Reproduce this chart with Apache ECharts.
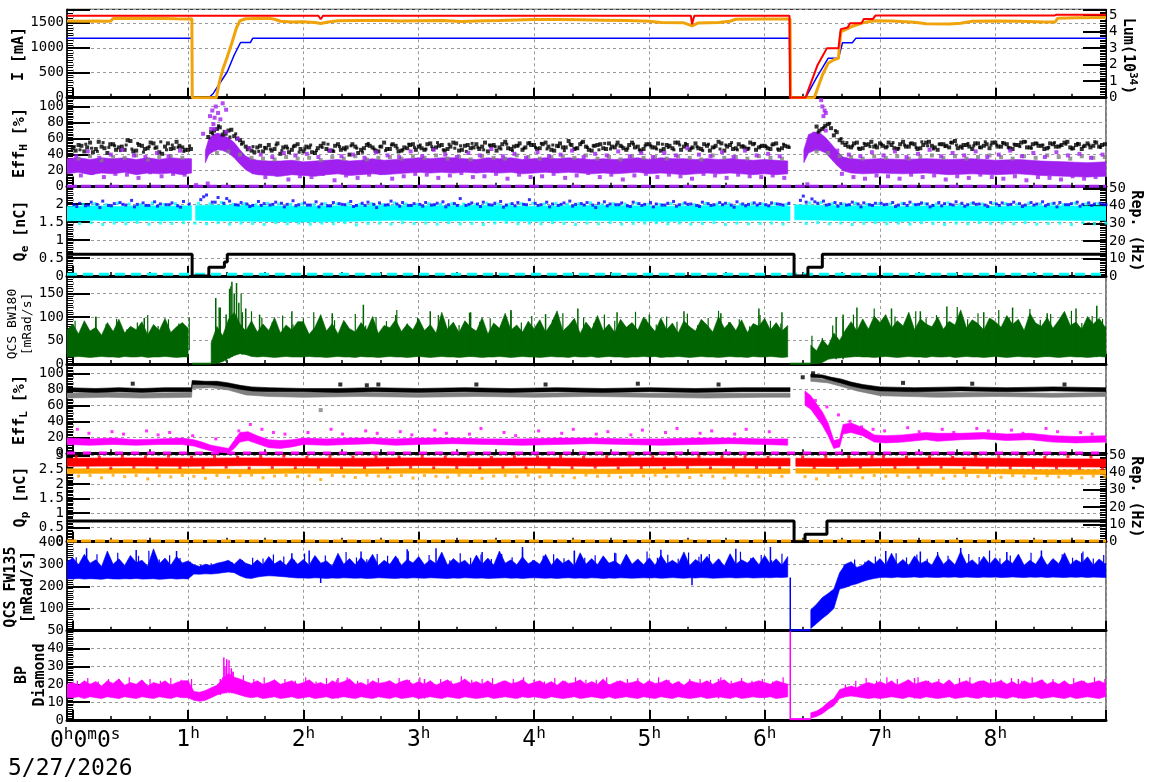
<!DOCTYPE html>
<html>
<head>
<meta charset="utf-8">
<script src="https://cdn.jsdelivr.net/npm/echarts@6/dist/echarts.min.js"></script>
<style>
  html, body { margin: 0; padding: 0; background: #fff; }
  #chart { width: 1172px; height: 782px; }
</style>
</head>
<body>
<div id="chart"></div>
<script>
// ---- data (time in hours) ----
// panel 1: beam currents [mA] and luminosity [1e34]
const herCurrent = [[-0.05,1188],[1.033,1188],[1.035,0],[1.18,0],[1.22,90],[1.34,520],[1.4,855],[1.455,1105],[1.54,1105],[1.56,1188],[5.36,1188],[5.37,1165],[5.38,1188],[6.215,1188],[6.218,750],[6.222,0],[6.355,0],[6.45,400],[6.55,788],[6.64,790],[6.675,1100],[6.76,1100],[6.79,1188],[8.96,1188]];
const lerCurrent = [[-0.05,1535],[0.1,1530],[0.2,1538],[0.3,1532],[0.33,1536],[0.35,1585],[0.5,1590],[0.6,1584],[0.7,1590],[0.8,1586],[0.9,1580],[1.0,1578],[1.033,1580],[1.036,0],[1.245,0],[1.27,300],[1.3,560],[1.34,820],[1.38,1100],[1.42,1400],[1.45,1540],[1.5,1580],[1.6,1586],[1.7,1590],[1.75,1570],[1.8,1530],[1.9,1518],[2.0,1520],[2.1,1505],[2.15,1485],[2.2,1510],[2.3,1540],[2.5,1548],[2.7,1545],[2.84,1535],[3.0,1540],[3.2,1545],[3.37,1525],[3.5,1535],[3.7,1545],[4.0,1568],[4.2,1565],[4.4,1560],[4.6,1553],[4.8,1545],[5.0,1530],[5.1,1505],[5.3,1500],[5.37,1440],[5.42,1495],[5.6,1507],[5.7,1530],[5.75,1570],[6.0,1575],[6.2,1574],[6.22,1574],[6.225,0],[6.43,0],[6.5,450],[6.55,688],[6.6,760],[6.64,790],[6.66,1320],[6.75,1420],[6.85,1500],[6.95,1540],[7.1,1535],[7.3,1510],[7.4,1480],[7.6,1474],[7.7,1490],[7.8,1530],[8.0,1535],[8.2,1530],[8.42,1515],[8.52,1515],[8.54,1590],[8.7,1600],[8.96,1607]];
const luminosity = [[-0.05,4.96],[2.13,4.96],[2.15,4.75],[2.17,4.96],[3.36,4.96],[3.37,4.85],[3.38,4.96],[5.36,4.96],[5.37,4.45],[5.39,4.96],[6.215,4.96],[6.22,0],[6.355,0],[6.38,0.5],[6.46,2.0],[6.5,2.5],[6.54,3.0],[6.64,3.0],[6.66,4.15],[6.72,4.25],[6.74,4.5],[6.84,4.5],[6.86,4.77],[6.94,4.77],[6.96,4.97],[8.51,4.97],[8.53,5.02],[8.96,5.02]];

// panel 2: Eff_H [%]
const effHBlackA = [ // t = 0 + 0.05 i
  48,52,44,55,47,50,42,53,49,46,57,45,51,48,54,43,50,47,56,49,
  46,null,null,null,68,72,65,70,63,58,50,45,49,44,52,47,41,50,46,53,
  44,49,42,51,47,45,53,48,40,50,46,52,49,44,55,47,51,45,48,53,
  50,46,54,49,52,47,55,45,51,48,53,50,44,52,49,56,47,51,46,54,
  52,48,55,46,51,49,57,47,53,50,45,52,48,54,49,51,46,55,50,47,
  53,49,45,52,48,55,50,46,54,47,51,49,56,45,52,48,50,47,53,49,
  51,47,54,48,50,null,null,null,null,75,72,78,64,58,52,49,55,48,53,50,
  54,49,52,47,56,50,53,48,55,51,46,53,49,57,50,52,47,54,51,48,
  55,50,53,47,52,56,49,54,51,48,53,50,55,49,52,47,54,51,50,53];
const effHBlackB = [ // t = 0.025 + 0.05 i
  45,51,49,43,56,48,53,46,50,58,44,52,47,55,49,41,54,48,51,46,
  47,null,null,62,70,74,66,71,60,55,48,43,51,48,45,54,49,43,51,47,
  50,43,48,54,45,51,46,49,53,42,48,51,45,50,47,53,44,49,52,46,
  48,53,47,51,45,50,54,46,52,49,47,55,51,45,53,48,50,54,49,52,
  47,53,50,45,54,49,52,48,56,46,51,53,47,50,55,48,52,49,45,53,
  49,54,47,51,55,46,52,49,48,53,45,51,54,50,47,53,49,55,46,51,
  48,53,46,51,null,null,null,null,null,70,76,73,68,55,50,54,47,52,56,49,
  51,55,48,53,50,54,47,52,56,49,53,51,55,48,52,50,54,49,53,55,
  50,54,48,52,55,49,53,51,47,54,50,52,56,48,53,51,49,55,52,50];
const effHBlackC = [ // t = 0.0125 + 0.05 i
  50,46,53,48,44,55,49,51,45,52,47,54,43,50,48,56,46,52,49,44,
  51,null,null,null,66,76,69,62,66,53,46,50,44,49,47,52,45,48,50,43,
  47,52,45,49,53,44,50,46,51,48,43,54,47,50,45,52,48,46,53,49,
  52,47,50,55,46,53,48,51,44,54,49,46,52,50,47,53,45,51,48,55,
  49,54,47,52,50,45,53,48,55,49,51,46,54,47,52,50,48,53,46,51,
  51,47,53,49,46,52,54,48,50,45,53,49,47,52,55,46,51,48,54,50,
  50,52,47,53,49,null,null,null,null,68,74,79,70,60,55,51,48,54,50,52,
  53,50,55,48,52,54,49,56,51,47,53,50,55,52,48,54,51,49,56,52,
  52,55,49,53,50,56,48,54,52,49,55,51,53,47,54,50,52,56,49,53];
const effHGray = [ // t = 0.05 + 0.1 i
  35,38,33,37,36,39,34,37,38,36,
  null,null,42,44,40,36,35,34,37,35,
  36,33,37,35,38,34,36,37,35,38,
  36,39,35,37,34,38,36,35,39,37,
  35,37,38,36,39,35,37,34,38,36,
  37,35,38,36,34,39,36,37,35,38,
  36,35,null,null,44,42,38,37,35,38,
  36,38,35,37,39,36,38,35,37,39,
  37,35,38,36,39,37,35,38,36,37];
const effHPurpleBand = [ // [t, low, high]
  [-0.05,16,35],[0.05,18,36],[0.15,15,34],[0.25,17,36],[0.35,16,35],[0.45,18,36],[0.55,15,34],[0.65,17,36],[0.75,16,34],[0.85,17,36],[0.95,15,35],[1.03,17,35], null,
  [1.15,30,45],[1.18,40,60],[1.22,44,65],[1.26,46,67],[1.3,45,64],[1.35,42,61],[1.4,36,55],[1.45,28,46],[1.5,21,38],[1.55,17,35],[1.6,15,33],[1.7,14,32],[1.8,13,32],[1.9,15,33],[2.0,14,31],[2.1,13,32],[2.2,15,33],[2.3,16,34],[2.4,14,32],[2.5,15,33],[2.6,16,35],[2.7,15,33],[2.8,16,34],[2.9,17,35],[3.0,18,36],[3.1,17,35],[3.2,18,36],[3.3,17,36],[3.4,18,35],[3.5,17,34],[3.6,18,36],[3.7,17,35],[3.8,18,36],[3.9,16,34],[4.0,17,35],[4.1,18,36],[4.2,17,35],[4.3,18,36],[4.4,17,35],[4.5,16,34],[4.6,17,35],[4.7,16,34],[4.8,17,35],[4.9,18,36],[5.0,16,34],[5.1,17,36],[5.2,16,35],[5.3,15,35],[5.4,16,34],[5.5,17,35],[5.6,16,34],[5.7,17,35],[5.8,16,34],[5.9,15,33],[6.0,16,34],[6.1,15,33],[6.2,16,32], null,
  [6.34,30,46],[6.38,42,65],[6.43,45,68],[6.48,45,67],[6.53,42,61],[6.58,34,53],[6.63,26,44],[6.68,20,37],[6.75,17,35],[6.85,16,34],[7.0,17,35],[7.2,16,34],[7.4,17,35],[7.6,15,34],[7.8,16,35],[8.0,15,33],[8.2,16,34],[8.4,14,32],[8.6,13,31],[8.8,12,30],[8.96,13,31]];
const effHPurpleUp = [ // t = 0.03 + 0.1 i
  38,44,36,40,46,39,37,42,38,45,
  null,66,72,68,60,48,40,37,42,39,
  41,37,45,38,40,36,43,39,37,44,
  38,46,40,37,42,39,47,38,41,36,
  43,38,40,45,37,41,39,44,38,42,
  37,42,39,48,40,38,43,37,45,39,
  41,38,null,null,66,70,45,40,38,43,
  39,44,37,41,46,38,42,39,44,37,
  40,45,38,42,37,43,39,41,36,40];
const effHPurpleDown = [ // t = 0.07 + 0.1 i
  14,17,12,16,15,11,18,13,16,15,
  2,4,null,null,null,18,12,15,9,13,
  12,16,8,14,11,15,17,10,13,16,
  15,11,14,17,12,13,16,10,15,12,
  13,16,11,14,17,12,15,9,14,16,
  12,15,13,10,16,14,11,15,13,12,
  14,11,null,3,null,null,16,12,10,14,
  13,10,15,12,14,9,13,11,15,12,
  10,13,8,12,11,9,13,10,12,11];
const effHPurpleHigh = [[1.19,88],[1.21,95],[1.23,86],[1.24,100],[1.26,92],[1.28,84],[1.3,104],[1.33,96],[1.2,72],[1.22,78],[6.49,108],[6.5,100],[6.52,95],[6.53,92],[6.51,88]];

// panel 3: Q_e [nC] and e- repetition [Hz]
const qeCyanBand = [
  [-0.05,1.53,1.93],[0.2,1.55,1.95],[0.4,1.52,1.93],[0.6,1.54,1.96],[0.8,1.53,1.94],[1.03,1.55,1.95], null,
  [1.065,1.55,1.96],[1.3,1.53,1.97],[1.6,1.52,1.95],[2.0,1.5,1.94],[2.4,1.52,1.95],[2.8,1.55,1.96],[3.2,1.53,1.95],[3.6,1.54,1.96],[4.0,1.52,1.94],[4.4,1.54,1.96],[4.8,1.53,1.95],[5.2,1.52,1.94],[5.6,1.54,1.96],[6.0,1.55,1.95],[6.22,1.54,1.94], null,
  [6.26,1.56,1.98],[6.5,1.55,1.96],[6.8,1.53,1.95],[7.2,1.52,1.94],[7.6,1.54,1.95],[8.0,1.53,1.94],[8.4,1.55,1.95],[8.96,1.54,1.94]];
const qeBlueA = [ // t = 0.01 + 0.05 i
  1.98,2.02,1.95,2.05,1.99,2.08,1.96,2.01,2.04,1.97,2.10,1.99,2.03,1.96,2.06,2.00,1.98,2.03,1.95,2.07,
  2.00,null,2.12,2.25,2.05,2.18,2.02,2.08,1.98,2.04,2.00,1.96,2.07,2.01,1.97,2.05,2.02,1.99,2.09,1.98,
  2.03,1.97,2.06,2.00,1.95,2.04,2.01,1.98,2.07,1.96,2.02,2.05,1.99,2.03,1.97,2.08,2.00,2.04,1.96,2.01,
  1.99,2.04,1.97,2.02,2.06,1.98,2.01,2.15,1.96,2.03,2.00,2.05,1.98,2.02,2.07,1.97,2.01,2.04,1.99,2.12,
  2.02,1.98,2.05,2.00,1.96,2.03,2.08,1.99,2.01,2.04,1.97,2.02,2.06,2.00,1.98,2.03,1.95,2.05,2.01,1.99,
  2.04,2.00,1.97,2.02,2.07,1.98,2.03,2.00,1.96,2.05,2.01,1.98,2.04,2.02,1.97,2.06,2.00,1.99,2.03,2.01,
  1.98,2.03,2.00,1.97,2.02,null,2.10,2.05,2.14,2.02,2.08,1.99,2.04,2.01,1.97,2.05,2.00,2.03,1.98,2.02,
  2.02,1.99,2.04,1.97,2.01,2.05,1.98,2.03,2.00,1.96,2.04,2.01,1.99,2.06,2.02,1.98,2.03,2.00,1.97,2.04,
  2.00,2.03,1.98,2.05,2.01,1.97,2.04,2.00,2.06,1.99,2.02,2.04,1.98,2.01,2.05,1.99,2.03,2.00,2.02,1.98];
const qeBlueB = [ // t = 0.035 + 0.1 i
  1.93,1.97,1.9,1.95,1.99,1.92,1.96,1.94,1.98,1.91,
  null,2.2,2.05,2.15,1.97,1.93,1.96,1.99,1.92,1.95,
  1.97,1.92,1.95,1.99,1.93,1.96,1.9,1.98,1.94,1.96,
  1.94,1.98,1.92,1.96,1.99,1.93,1.97,1.91,1.95,1.98,
  1.96,1.92,1.99,1.94,1.97,1.9,1.95,1.98,1.93,1.96,
  1.92,1.97,1.94,1.99,1.93,1.96,1.98,1.91,1.95,1.97,
  1.95,1.99,null,2.22,2.06,1.97,1.94,1.98,1.92,1.96,
  1.98,1.93,1.96,1.99,1.92,1.95,1.97,1.94,1.99,1.93,
  1.96,1.99,1.93,1.97,1.95,1.92,1.98,1.94,1.96,1.99];
const qeCyanLow = [ // t = 0.06 + 0.1 i
  1.46,1.48,1.43,1.47,1.45,1.49,1.44,1.47,1.46,1.48,
  1.47,1.45,1.48,1.44,1.47,1.46,1.43,1.48,1.45,1.47,
  1.44,1.47,1.45,1.48,1.42,1.46,1.47,1.44,1.48,1.46,
  1.47,1.44,1.48,1.45,1.46,1.43,1.47,1.49,1.45,1.47,
  1.45,1.48,1.46,1.43,1.47,1.45,1.48,1.44,1.46,1.47,
  1.48,1.45,1.47,1.44,1.46,1.48,1.43,1.47,1.45,1.46,
  1.47,1.44,null,1.46,1.48,1.45,1.47,1.43,1.46,1.48,
  1.45,1.47,1.44,1.48,1.46,1.43,1.47,1.45,1.48,1.46,
  1.47,1.45,1.48,1.44,1.46,1.47,1.43,1.48,1.45,1.47];
const qeCyanHigh = [ // t = 0.09 + 0.1 i
  1.99,2.01,1.98,2.02,2.0,1.98,2.03,1.99,2.01,null,
  2.02,2.0,2.04,1.99,2.01,1.98,2.02,2.0,1.99,2.01,
  1.98,2.01,2.0,2.02,1.99,2.01,1.98,2.03,2.0,1.99,
  2.01,1.99,2.02,2.0,1.98,2.02,2.0,1.99,2.01,2.02,
  2.0,2.02,1.99,2.01,2.03,1.98,2.01,2.0,2.02,1.99,
  1.99,2.01,2.0,1.98,2.02,2.0,2.01,1.99,2.02,2.0,
  2.01,1.99,null,2.03,2.04,2.01,2.0,2.02,1.99,2.01,
  2.0,2.02,1.99,2.01,2.0,2.03,1.98,2.01,2.0,2.02,
  2.01,1.99,2.02,2.0,2.01,1.98,2.02,2.0,2.01,1.99];
const qeRep = [[-0.05,12.4],[1.035,12.4],[1.035,0],[1.18,0],[1.18,5],[1.315,5],[1.315,8],[1.34,8],[1.34,12.4],[6.255,12.4],[6.255,0],[6.375,0],[6.375,5],[6.5,5],[6.5,12.4],[8.96,12.4]];

// panel 4: QCS BW180 [mRad/s], t = -0.05 + 0.05 i
const bw180Low = [15,
  15,16,15,14,15,16,15,15,14,16,15,15,16,14,15,15,16,15,14,15,
  15,null,null,null,0,2,5,12,18,22,20,16,15,16,15,14,15,16,15,15,
  15,16,15,15,14,15,16,15,15,14,16,15,15,14,15,16,15,15,14,15,
  16,15,14,15,16,15,15,14,15,16,15,14,15,15,16,15,14,15,16,15,
  15,14,15,16,15,15,14,16,15,15,16,14,15,16,15,15,14,15,15,16,
  15,16,14,15,15,16,15,14,15,16,15,15,14,15,16,15,15,14,16,15,
  15,16,15,14,15,null,null,null,0,0,3,10,12,13,14,15,16,15,15,14,
  15,16,15,14,15,16,15,15,14,16,15,15,16,14,15,16,15,15,14,15,
  16,15,14,15,16,15,15,14,15,16,15,14,15,16,15,15,14,15,16,15,
  15];
const bw180High = [72,
  85,64,92,70,78,61,88,69,95,66,80,73,90,62,84,71,97,67,79,88,
  76,null,null,null,45,80,60,95,110,85,70,92,68,85,71,99,66,83,72,90,
  90,63,78,105,70,86,64,93,75,68,88,72,101,65,82,77,94,69,85,73,
  96,71,84,66,110,74,89,67,92,78,70,99,64,87,76,108,72,83,68,91,
  75,94,68,86,113,70,82,97,65,89,74,103,71,85,67,95,78,88,72,100,
  84,69,98,73,87,66,92,79,70,95,83,68,101,76,89,71,94,67,86,80,
  97,72,88,70,82,null,null,null,40,28,52,38,66,50,72,90,70,96,74,102,
  88,105,76,92,81,110,73,96,85,79,100,74,91,83,115,77,94,86,72,98,
  90,78,103,84,95,71,108,87,80,99,76,93,112,82,89,74,101,85,97,79,
  88];
const bw180Tops = [ // thin spikes, t = 0.02 + 0.09 i
  92,78,101,85,96,74,88,104,81,95,
  86,99,null,null,120,165,150,112,98,89,
  103,84,97,110,79,93,88,106,82,100,
  91,115,86,98,77,104,95,83,109,90,
  97,81,112,88,102,76,94,108,85,99,
  87,105,92,79,111,96,84,101,90,107,
  83,98,113,89,95,80,104,92,86,null,
  null,60,55,82,95,105,88,118,93,101,
  86,112,97,104,90,121,95,108,84,115,
  99,88,117,94,106,91,113,87,102,96];
const bw180Spikes = [[1.24,0,140],[1.27,0,120],[1.33,5,105],[1.36,12,160],[1.38,15,175],[1.4,18,150],[1.42,20,172],[1.44,22,130],[1.47,20,110],[1.5,20,118],
  [0.2,15,100],[0.62,15,98],[1.62,15,105],[1.9,15,112],[2.25,15,108],[2.52,15,126],[2.8,15,104],[3.1,15,112],[3.45,15,110],[3.8,15,115],[4.1,15,106],[4.38,15,118],[4.72,15,110],[5.0,15,105],[5.3,15,112],[5.62,15,108],[5.95,15,118],[6.15,15,110],
  [6.62,10,100],[6.68,10,105],[6.8,15,120],[7.1,15,118],[7.35,15,112],[7.58,15,122],[7.9,15,110],[8.15,15,120],[8.45,15,108],[8.7,15,118],[8.88,15,124]];

// panel 5: Eff_L [%]
const effLGrayBand = [
  [-0.05,69,75],[0.3,70,76],[0.6,69,75],[1.03,70,76],
  [1.035,81,86],[1.2,82,87],[1.35,79,84],[1.5,73,79],[1.7,71,76],[2.0,70,76],[2.5,71,76],[3.0,70,75],[3.5,71,76],[4.0,70,75],[4.5,71,76],[5.0,70,75],[5.5,69,75],[6.0,70,75],[6.22,70,75], null,
  [6.4,90,94],[6.55,88,92],[6.65,84,89],[6.8,78,84],[7.0,72,78],[7.5,70,76],[8.0,71,76],[8.5,70,75],[8.96,71,76]];
const effLBlackBand = [
  [-0.05,77,82],[0.2,76,81],[0.4,77,82],[0.6,76,81],[0.8,77,82],[1.03,77,82],
  [1.035,86,91],[1.15,86,90],[1.25,85,90],[1.35,83,88],[1.45,80,85],[1.55,78,83],[1.7,77,82],[2.0,77,81],[2.3,76,81],[2.6,77,82],[3.0,76,81],[3.4,77,82],[3.8,76,81],[4.2,77,82],[4.6,76,81],[5.0,77,82],[5.4,76,81],[5.8,77,82],[6.22,77,82], null,
  [6.4,95,99],[6.5,94,98],[6.58,91,95],[6.66,88,93],[6.75,84,89],[6.85,81,86],[7.0,78,83],[7.3,77,82],[7.7,78,83],[8.1,77,82],[8.5,78,83],[8.96,77,82]];
const effLBlackOut = [[0.52,87],[2.32,86],[2.55,85],[2.65,86],[3.5,86],[4.1,86],[4.9,87],[5.6,86],[7.2,88],[7.8,87],[8.6,86],[6.33,95],[6.42,100]];
const effLGrayOut = [[2.15,54]];
const effLMagentaBand = [
  [-0.05,11,19],[0.15,10,18],[0.35,11,19],[0.55,10,17],[0.75,11,18],[0.95,11,19],[1.05,9,17],[1.12,6,14],[1.2,3,10],[1.28,1,8],[1.35,0,6],[1.4,6,16],[1.45,14,26],[1.52,16,27],[1.6,12,22],[1.7,7,17],[1.8,6,16],[1.9,8,17],[2.0,11,19],[2.2,10,18],[2.4,11,19],[2.6,12,19],[2.8,10,18],[3.0,11,19],[3.3,12,19],[3.6,11,18],[3.9,10,18],[4.2,11,19],[4.5,12,19],[4.8,11,18],[5.1,10,18],[5.4,11,19],[5.7,12,19],[6.0,11,18],[6.2,10,18], null,
  [6.35,60,78],[6.4,55,72],[6.45,45,62],[6.5,35,52],[6.55,22,38],[6.6,6,16],[6.65,8,18],[6.68,24,36],[6.75,26,38],[6.85,22,32],[6.95,14,23],[7.05,13,22],[7.2,14,23],[7.4,17,26],[7.5,15,25],[7.7,17,25],[7.9,18,26],[8.1,16,24],[8.3,17,25],[8.5,14,22],[8.7,13,21],[8.96,14,22]];
const effLMagentaOut = [ // t = 0.04 + 0.1 i
  30,25,null,27,24,null,28,23,26,null,
  22,null,18,null,28,36,30,26,24,null,
  26,null,30,24,null,28,25,null,27,23,
  null,29,25,null,24,31,null,26,22,null,
  28,null,25,30,null,24,27,null,23,29,
  null,26,31,null,25,28,null,24,30,null,
  27,null,null,null,66,58,48,40,33,30,
  28,null,32,27,null,30,26,null,31,28,
  null,29,25,null,31,27,null,26,24,null];

// panel 6: Q_p [nC] and e+ repetition [Hz]
const qpRedBand = [[-0.05,2.62,2.9],[0.5,2.63,2.91],[1.0,2.62,2.9],[1.5,2.64,2.91],[2.0,2.63,2.9],[2.5,2.62,2.9],[3.0,2.64,2.91],[3.5,2.63,2.9],[4.0,2.64,2.91],[4.5,2.62,2.9],[5.0,2.63,2.91],[5.5,2.64,2.9],[6.0,2.63,2.9],[6.22,2.63,2.9], null,
  [6.27,2.62,2.9],[6.6,2.61,2.89],[7.0,2.63,2.9],[7.5,2.64,2.91],[8.0,2.62,2.9],[8.5,2.6,2.88],[8.96,2.59,2.87]];
const qpOrangeBand = [[-0.05,2.37,2.53],[0.5,2.38,2.54],[1.0,2.37,2.53],[1.5,2.36,2.52],[2.0,2.38,2.54],[2.5,2.37,2.53],[3.0,2.38,2.54],[3.5,2.37,2.53],[4.0,2.38,2.54],[4.5,2.36,2.52],[5.0,2.37,2.53],[5.5,2.38,2.54],[6.0,2.37,2.53],[6.22,2.37,2.53], null,
  [6.27,2.38,2.54],[6.6,2.37,2.53],[7.0,2.38,2.54],[7.5,2.37,2.53],[8.0,2.36,2.52],[8.5,2.33,2.5],[8.96,2.33,2.5]];
const qpRedOut = [ // t = 0.03 + 0.1 i
  2.95,2.58,2.93,2.56,2.96,2.59,2.94,2.57,2.97,2.58,
  2.94,2.57,2.96,2.59,2.93,2.56,2.95,2.58,2.97,2.57,
  2.93,2.59,2.96,2.57,2.94,2.58,2.95,2.56,2.93,2.59,
  2.96,2.57,2.94,2.58,2.97,2.56,2.93,2.59,2.95,2.57,
  2.94,2.58,2.96,2.57,2.93,2.59,2.95,2.56,2.97,2.58,
  2.95,2.56,2.93,2.58,2.96,2.57,2.94,2.59,2.95,2.58,
  2.93,2.57,null,2.95,2.58,2.96,2.56,2.94,2.59,2.95,
  2.96,2.58,2.94,2.57,2.95,2.59,2.93,2.56,2.96,2.58,
  2.94,2.57,2.95,2.58,2.93,2.56,2.96,2.55,2.94,2.54];
const qpOrangeOut = [ // t = 0.05 + 0.1 i
  2.28,2.3,2.22,2.31,2.26,2.3,2.18,2.29,2.25,2.3,
  2.27,2.2,2.3,2.24,2.29,2.31,2.22,2.28,2.3,2.26,
  2.29,2.16,2.3,2.27,2.23,2.31,2.28,2.25,2.3,2.21,
  2.3,2.27,2.24,2.31,2.29,2.2,2.28,2.3,2.26,2.31,
  2.25,2.3,2.28,2.22,2.31,2.27,2.29,2.24,2.3,2.28,
  2.31,2.26,2.29,2.23,2.3,2.27,2.21,2.3,2.28,2.25,
  2.3,2.27,null,2.26,2.18,2.3,2.25,2.29,2.22,2.3,
  2.27,2.3,2.24,2.29,2.31,2.2,2.28,2.3,2.26,2.29,
  2.24,2.3,2.27,2.2,2.29,2.25,2.3,2.22,2.28,2.26];
const qpRep = [[-0.05,11.9],[6.255,11.9],[6.255,0],[6.35,0],[6.35,4.3],[6.54,4.3],[6.54,11.9],[8.96,11.9]];

// panel 7: QCS FW135 [mRad/s], t = -0.05 + 0.05 i
const fw135Low = [234,
  234,236,233,235,234,232,236,234,233,235,234,236,233,234,235,232,234,236,233,235,
  234,256,255,257,256,258,262,265,262,248,238,236,242,246,248,247,245,243,240,238,
  238,237,239,238,236,238,237,239,238,237,238,236,237,239,238,237,236,238,237,239,
  238,237,239,238,237,236,238,237,239,238,237,238,236,237,238,239,237,238,236,238,
  239,238,237,238,236,238,239,237,238,237,239,238,236,238,237,239,238,237,238,239,
  238,239,237,238,240,238,237,239,238,240,239,237,238,239,240,238,239,240,238,239,
  240,239,241,240,242,null,null,null,10,32,55,75,100,188,195,205,212,222,230,236,
  240,241,239,242,240,241,243,240,242,241,240,242,241,243,240,242,241,240,242,241,
  242,240,241,243,241,240,242,241,243,240,242,241,240,242,241,243,240,242,241,240,
  241];
const fw135High = [310,
  330,298,345,305,320,290,360,300,325,295,340,308,318,292,370,302,328,296,335,306,
  315,298,290,300,294,305,310,318,300,325,305,296,320,298,335,302,318,294,330,300,
  322,296,340,305,315,292,350,300,326,298,332,304,345,295,318,300,338,296,322,306,
  335,298,320,302,355,296,326,304,318,292,342,300,328,296,360,305,320,298,334,302,
  318,300,345,296,328,304,320,292,352,300,326,298,338,305,316,294,346,300,324,298,
  330,296,342,302,318,300,356,295,322,304,336,298,325,292,348,300,320,306,332,298,
  340,300,325,296,335,null,null,null,95,120,150,168,188,262,300,312,286,296,318,300,
  326,296,350,300,322,294,338,302,316,296,344,300,324,298,358,302,320,296,336,300,
  330,298,322,304,346,296,318,300,340,294,326,302,352,298,320,306,334,296,324,302,
  315];
const fw135Tops = [ // thin spikes, t = 0.03 + 0.09 i
  332,318,345,325,352,316,338,361,322,341,
  328,312,298,305,300,310,318,330,326,344,
  335,321,349,327,340,318,355,331,323,346,
  338,326,359,320,342,333,318,350,329,344,
  324,347,332,356,319,338,345,327,362,330,
  341,322,350,336,317,358,329,343,325,353,
  334,346,320,339,357,328,342,318,348,null,
  null,null,null,null,300,322,312,335,326,350,
  331,344,325,356,338,320,347,333,362,327,
  340,323,352,336,318,345,330,358,326,342];
const fw135Spikes = [[0.12,300,372],[0.55,300,365],[0.9,300,360],[1.9,300,350],[2.05,300,362],[2.5,300,358],[2.9,300,368],[3.15,300,372],[3.55,300,355],[3.9,300,378],[4.35,300,360],[4.7,300,352],[5.1,300,366],[5.45,300,345],[5.75,300,370],[6.05,300,378],
  [7.05,300,360],[7.35,300,358],[7.7,300,373],[8.1,300,356],[8.4,300,362],[8.75,300,350],
  [2.15,215,240],[5.37,205,240],[6.222,0,240]];

// panel 8: BP Diamond, t = -0.05 + 0.05 i
const bpLow = [12.5,
  12.5,13,12,13,12.5,12,13,12.5,12,13,12.5,12,13,12.5,12,13,12.5,12,13,12.5,
  12.5,11,10.5,11,12.5,14,15,16,15,14,13,12.5,13,12,12.5,13,12,12.5,13,12,
  12.5,13,12,12.5,13,12,12.5,13,12.5,12,13,12.5,12,13,12.5,12,13,12,12.5,13,
  12,12.5,13,12.5,12,13,12.5,12,13,12.5,12,12.5,13,12,12.5,13,12.5,12,13,12.5,
  13,12.5,12,13,12.5,12,12.5,13,12,12.5,13,12.5,12,13,12,12.5,13,12.5,12,13,
  12.5,12,13,12.5,12,13,12.5,12,12.5,13,12,12.5,13,12.5,12,13,12,12.5,13,12.5,
  12.5,13,12,12.5,13,null,null,null,1,2,3.5,6,8,12,13,13.5,13,12.5,12,12.5,
  12,12.5,13,12.5,12,13,12.5,12,13,12.5,12,12.5,13,12,12.5,13,12.5,12,13,12.5,
  13,12.5,12,13,12.5,12,12.5,13,12,12.5,13,12.5,12,13,12,12.5,13,12.5,12,13,
  12.5];
const bpHigh = [20,
  21,19.5,22,20,21.5,19,22,20.5,23,19.5,21,20,22.5,19,21,20,22,19.5,21,22,
  22,16,15.5,16.5,18,19.5,23,26,24,23,21.5,20.5,22,20,21,22.5,20,21,22,20,
  21,22.5,20,21,19.5,22,20.5,21.5,23,20,21,19.5,22,20.5,21,22,20,21.5,22.5,20,
  21.5,20,22,19.5,21,22.5,20,21,23,20.5,21.5,20,22,19.5,21,22,20.5,21,22.5,20,
  21,22,20,21.5,19.5,22,20.5,21,22.5,20,21.5,20,23,19.5,21,22,20.5,21,22,20,
  22,20.5,21,22.5,20,21.5,19.5,22,21,20.5,22,20,21.5,22.5,20,21,22,20.5,21,22,
  21,20,22,21,20,null,null,null,4,5,7,10,12,17,18,19,18,20,21,20,
  21.5,20,22,19.5,21,22.5,20,21,22,20.5,21.5,20,22.5,19.5,21,22,20,21.5,22,20.5,
  21,22,20,21.5,19.5,22,20.5,21,22.5,20,21.5,20,22,19.5,21,22,20.5,21,22,20.5,
  21];
const bpTops = [ // thin spikes, t = 0.04 + 0.09 i
  22,23.5,21.5,23,22.5,24,21,23,22,23.5,
  22.5,23,null,null,24,27,25,23,24,22.5,
  23,22,24,21.5,23.5,22.5,24,22,23,23.5,
  22,23.5,22.5,24,21.5,23,22,24.5,22.5,23,
  23.5,22,23,24,22.5,21.5,23.5,22,24,22.5,
  22.5,24,22,23,23.5,22,24,22.5,21.5,23,
  23,22.5,24,22,23.5,22,23,21.5,24,null,
  null,null,null,null,20,22,23.5,22,24,23,
  22.5,24,22,23,21.5,23.5,24,22,23,22.5,
  23.5,22,24,22.5,23,21.5,23.5,22,24,23];
const bpSpikes = [[1.28,14,23],[1.31,15,35],[1.32,15,30],[1.335,15,34],[1.355,15,33.5],[1.375,15,29],[1.39,15,27],
  [0.4,12,23],[2.3,12,23.5],[3.05,12,23],[5.6,12,23],[7.3,12,23.5],[8.2,12,23],[6.222,0,50]];

// points sitting on zero of each panel
const effHZero = [[-0.05,0.5],[8.96,0.5]];
const qeZero = [[-0.05,0.05],[8.96,0.05]];
const bw180Zero = [[1.035,0.5],[1.2,0.5],null,[6.22,0.5],[6.4,0.5]];
const effLZero = [[-0.05,0.5],[8.96,0.5]];
const qpZero = [[-0.05,0.02],[8.96,0.02]];
const fw135Zero = [[6.22,2],[6.4,2]];
const bpZero = [[6.22,0.5],[6.4,0.5]];

// ---- layout ----
const MONO = '"DejaVu Sans Mono", monospace';
const X_MIN = -0.05, X_MAX = 8.96;
const panelEdges = [9.3, 97.7, 186.7, 276, 364, 453.3, 541.7, 630.7, 720];
const panelAxes = [
  { left: { min: 0, max: 1770, interval: 500 }, right: { min: 0, max: 5.35, interval: 1 } },
  { left: { min: 0, max: 111, interval: 20 } },
  { left: { min: 0, max: 2.48, interval: 0.5 }, right: { min: 0, max: 50.9, interval: 10 } },
  { left: { min: 0, max: 187, interval: 50 } },
  { left: { min: 0, max: 111.6, interval: 20 } },
  { left: { min: 0, max: 3.07, interval: 0.5 }, right: { min: 0, max: 51, interval: 10 } },
  { left: { min: 0, max: 402, interval: 100, showMin: false } },
  { left: { min: 0, max: 50, interval: 10, showMax: true } },
];

const grids = [], xAxes = [], yAxes = [], yIdx = [];

function yAxisCfg(k, pos, a) {
  return {
    type: 'value', gridIndex: k, position: pos, min: a.min, max: a.max, interval: a.interval,
    axisLine: { show: true, onZero: false, lineStyle: { color: '#000', width: pos === 'left' ? 1.5 : 1 } },
    axisTick: { show: true, inside: true, length: 23, lineStyle: { color: '#000', width: 2 } },
    minorTick: { show: true, splitNumber: 10, length: 6, lineStyle: { color: '#000', width: 1 } },
    splitLine: { show: pos === 'left', lineStyle: { color: '#9a9a9a', width: 1, type: [3, 3] } },
    axisLabel: {
      show: true, color: '#000', fontFamily: MONO, fontSize: 14, margin: 3,
      showMinLabel: a.showMin !== false, showMaxLabel: a.showMax === true,
      formatter: (v) => String(v),
    },
  };
}

panelAxes.forEach((p, k) => {
  const top = panelEdges[k];
  grids.push({
    left: 67, right: 66, top: top, height: panelEdges[k + 1] - top,
    show: true, borderColor: '#000', borderWidth: 1, backgroundColor: 'transparent',
    containLabel: false, outerBoundsMode: 'none',
  });
  xAxes.push({
    type: 'value', gridIndex: k, min: X_MIN, max: X_MAX, splitNumber: 9,
    axisLine: { show: true, onZero: false, lineStyle: { color: '#000', width: 3 } },
    axisTick: { show: true, inside: true, length: 10, lineStyle: { color: '#000', width: 2 } },
    minorTick: { show: true, splitNumber: 3, length: 4, lineStyle: { color: '#000', width: 1.5 } },
    splitLine: { show: true, lineStyle: { color: '#9a9a9a', width: 1, type: [3, 3] } },
    axisLabel: k === 7 ? {
      show: true, margin: 6,
      formatter: (v) => {
        const r = Math.round(v);
        return (Math.abs(v - r) < 1e-6 && r >= 1) ? '{b|' + r + '}{s|h}' : '';
      },
      rich: {
        b: { fontFamily: MONO, fontSize: 23, color: '#000', lineHeight: 26, verticalAlign: 'bottom' },
        s: { fontFamily: MONO, fontSize: 16, color: '#000', lineHeight: 16, verticalAlign: 'top' },
      },
    } : { show: false },
  });
  const ids = { L: yAxes.length };
  yAxes.push(yAxisCfg(k, 'left', p.left));
  if (p.right) {
    ids.R = yAxes.length;
    yAxes.push(yAxisCfg(k, 'right', p.right));
  }
  yIdx.push(ids);
});

// ---- series helpers ----
function onGrid(t0, dt, vals) {
  const out = [];
  vals.forEach((v, i) => { if (v != null) out.push([Math.round((t0 + dt * i) * 1000) / 1000, v]); });
  return out;
}
function gridBand(t0, dt, lo, hi) {
  return hi.map((h, i) => (h == null || lo[i] == null) ? null : [Math.round((t0 + dt * i) * 1000) / 1000, lo[i], h]);
}
function splitRuns(triples) {
  const runs = [];
  let cur = [];
  triples.forEach((p) => {
    if (p == null) { if (cur.length) runs.push(cur); cur = []; } else cur.push(p);
  });
  if (cur.length) runs.push(cur);
  return runs;
}

const series = [];
function band(k, side, triples, color) {
  const runs = splitRuns(triples);
  series.push({
    type: 'custom', xAxisIndex: k, yAxisIndex: yIdx[k][side], clip: true, silent: true,
    encode: { x: 0, y: 1 },
    data: runs.map((r, i) => [r[0][0], r[0][1], i]),
    renderItem(params, api) {
      const run = runs[api.value(2)];
      const upper = run.map(p => api.coord([p[0], p[2]]));
      const lower = run.map(p => api.coord([p[0], p[1]])).reverse();
      return { type: 'polygon', shape: { points: upper.concat(lower) }, style: { fill: color, stroke: color, lineWidth: 0.6 } };
    },
  });
}
function spikes(k, side, items, color, w) {
  series.push({
    type: 'custom', xAxisIndex: k, yAxisIndex: yIdx[k][side], clip: true, silent: true,
    encode: { x: 0, y: [1, 2] },
    data: items,
    renderItem(params, api) {
      const a = api.coord([api.value(0), api.value(1)]);
      const b = api.coord([api.value(0), api.value(2)]);
      return { type: 'line', shape: { x1: a[0], y1: a[1], x2: b[0], y2: b[1] }, style: { stroke: color, lineWidth: w || 1.5 } };
    },
  });
}
function dots(k, side, data, color, size) {
  series.push({
    type: 'scatter', xAxisIndex: k, yAxisIndex: yIdx[k][side], data: data,
    symbol: 'rect', symbolSize: size || 3, itemStyle: { color: color }, silent: true, clip: true,
  });
}
function line(k, side, data, color, width, dash, clip) {
  series.push({
    type: 'line', xAxisIndex: k, yAxisIndex: yIdx[k][side], data: data.map(p => p == null ? [null, null] : p),
    showSymbol: false, symbol: 'none', connectNulls: false, silent: true, clip: clip !== false,
    lineStyle: { color: color, width: width, type: dash || 'solid', cap: 'butt' },
  });
}
// thin spikes from a typed top list, rising from inside the dense band
function topSpikes(k, t0, dt, tops, base) {
  return onGrid(t0, dt, tops).map(p => [p[0], base, p[1]]);
}

// panel 1
line(0, 'L', herCurrent, '#0000ff', 1.5);
line(0, 'L', lerCurrent, '#f0a30a', 3);
line(0, 'R', luminosity, '#ff0000', 2);
// panel 2
dots(1, 'L', onGrid(0, 0.05, effHBlackA), '#000000', 4);
dots(1, 'L', onGrid(0.025, 0.05, effHBlackB), '#000000', 4);
dots(1, 'L', onGrid(0.0125, 0.05, effHBlackC), '#000000', 3);
dots(1, 'L', onGrid(0.05, 0.1, effHGray), '#808080', 4);
band(1, 'L', effHPurpleBand, '#a020f0');
dots(1, 'L', onGrid(0.03, 0.1, effHPurpleUp), '#a020f0', 4);
dots(1, 'L', onGrid(0.07, 0.1, effHPurpleDown), '#a020f0', 4);
dots(1, 'L', effHPurpleHigh, '#a020f0', 4);
line(1, 'L', effHZero, '#a020f0', 3, [10, 4], false);
// panel 3
band(2, 'L', qeCyanBand, '#00ffff');
dots(2, 'L', onGrid(0.06, 0.1, qeCyanLow), '#00ffff', 3);
dots(2, 'L', onGrid(0.09, 0.1, qeCyanHigh), '#00ffff', 3);
dots(2, 'L', onGrid(0.01, 0.05, qeBlueA), '#0000ff', 3);
dots(2, 'L', onGrid(0.035, 0.1, qeBlueB), '#0000ff', 3);
line(2, 'L', qeZero, '#00ffff', 3, [10, 6], false);
line(2, 'R', qeRep, '#000000', 3);
// panel 4
band(3, 'L', gridBand(-0.05, 0.05, bw180Low, bw180High), '#006400');
spikes(3, 'L', topSpikes(3, 0.02, 0.09, bw180Tops, 30), '#006400', 1.2);
spikes(3, 'L', bw180Spikes, '#006400', 1.5);
line(3, 'L', bw180Zero, '#006400', 2, 'solid', false);
// panel 5
band(4, 'L', effLGrayBand, '#808080');
band(4, 'L', effLBlackBand, '#000000');
dots(4, 'L', effLBlackOut, '#000000', 4);
dots(4, 'L', effLGrayOut, '#808080', 4);
band(4, 'L', effLMagentaBand, '#ff00ff');
dots(4, 'L', onGrid(0.04, 0.1, effLMagentaOut), '#ff00ff', 3);
line(4, 'L', effLZero, '#ff00ff', 3, [8, 8], false);
// panel 6
band(5, 'L', qpOrangeBand, '#ffa500');
band(5, 'L', qpRedBand, '#ff0000');
dots(5, 'L', onGrid(0.03, 0.1, qpRedOut), '#ff0000', 3);
dots(5, 'L', onGrid(0.05, 0.1, qpOrangeOut), '#ffa500', 3);
line(5, 'L', qpZero, '#ffa500', 3, [10, 4], false);
line(5, 'R', qpRep, '#000000', 3);
// panel 7
band(6, 'L', gridBand(-0.05, 0.05, fw135Low, fw135High), '#0000ff');
spikes(6, 'L', topSpikes(6, 0.03, 0.09, fw135Tops, 280), '#0000ff', 1.2);
spikes(6, 'L', fw135Spikes, '#0000ff', 1.5);
line(6, 'L', fw135Zero, '#0000ff', 2, 'solid', false);
// panel 8
band(7, 'L', gridBand(-0.05, 0.05, bpLow, bpHigh), '#ff00ff');
spikes(7, 'L', topSpikes(7, 0.04, 0.09, bpTops, 17), '#ff00ff', 1.2);
spikes(7, 'L', bpSpikes, '#ff00ff', 1.5);
line(7, 'L', bpZero, '#ff00ff', 2, 'solid', false);

// ---- axis titles and date ----
const bold = { fontFamily: MONO, fontSize: 15, fontWeight: 'bold', fill: '#000', lineHeight: 20 };
const rich = {
  b: bold,
  sb: { fontFamily: MONO, fontSize: 11, fontWeight: 'bold', fill: '#000', lineHeight: 11, verticalAlign: 'bottom' },
  sp: { fontFamily: MONO, fontSize: 11, fontWeight: 'bold', fill: '#000', lineHeight: 11, verticalAlign: 'top' },
  r: { fontFamily: MONO, fontSize: 13, fill: '#000', lineHeight: 16 },
  xb: { fontFamily: MONO, fontSize: 23, fill: '#000', lineHeight: 26, verticalAlign: 'bottom' },
  xs: { fontFamily: MONO, fontSize: 16, fill: '#000', lineHeight: 16, verticalAlign: 'top' },
};
function vtext(x, y, text, rot) {
  return { type: 'text', x: x, y: y, rotation: rot, silent: true, z: 100,
    style: { text: text, rich: rich, align: 'center', verticalAlign: 'middle' } };
}
const UP = Math.PI / 2, DOWN = -Math.PI / 2;
const graphic = [
  vtext(19, 54, '{b|I [mA]}', UP),
  vtext(20, 143, '{b|Eff}{sb|H}{b| [%]}', UP),
  vtext(21, 231, '{b|Q}{sb|e}{b| [nC]}', UP),
  vtext(13, 324, '{r|QCS BW180}', UP),
  vtext(28, 324, '{r|[mRad/s]}', UP),
  vtext(20, 410, '{b|Eff}{sb|L}{b| [%]}', UP),
  vtext(21, 497, '{b|Q}{sb|p}{b| [nC]}', UP),
  vtext(11, 587, '{b|QCS FW135}', UP),
  vtext(28, 587, '{b|[mRad/s]}', UP),
  vtext(22, 675, '{b|BP}', UP),
  vtext(40, 675, '{b|Diamond}', UP),
  vtext(1128, 56, '{b|Lum(10}{sp|34}{b|)}', DOWN),
  vtext(1136, 231, '{b|Rep. (Hz)}', DOWN),
  vtext(1136, 497, '{b|Rep. (Hz)}', DOWN),
  { type: 'text', x: 50, y: 727, silent: true, z: 100,
    style: { text: '{xb|0}{xs|h}{xb|0}{xs|m}{xb|0}{xs|s}', rich: rich, align: 'left', verticalAlign: 'top' } },
  { type: 'text', x: 8, y: 769, silent: true, z: 100,
    style: { text: '5/27/2026', fontFamily: MONO, fontSize: 23, fill: '#000', align: 'left', verticalAlign: 'middle' } },
];

const chart = echarts.init(document.getElementById('chart'), null, { renderer: 'canvas' });
chart.setOption({
  animation: false,
  backgroundColor: '#fff',
  grid: grids,
  xAxis: xAxes,
  yAxis: yAxes,
  series: series,
  graphic: graphic,
});
</script>
</body>
</html>
